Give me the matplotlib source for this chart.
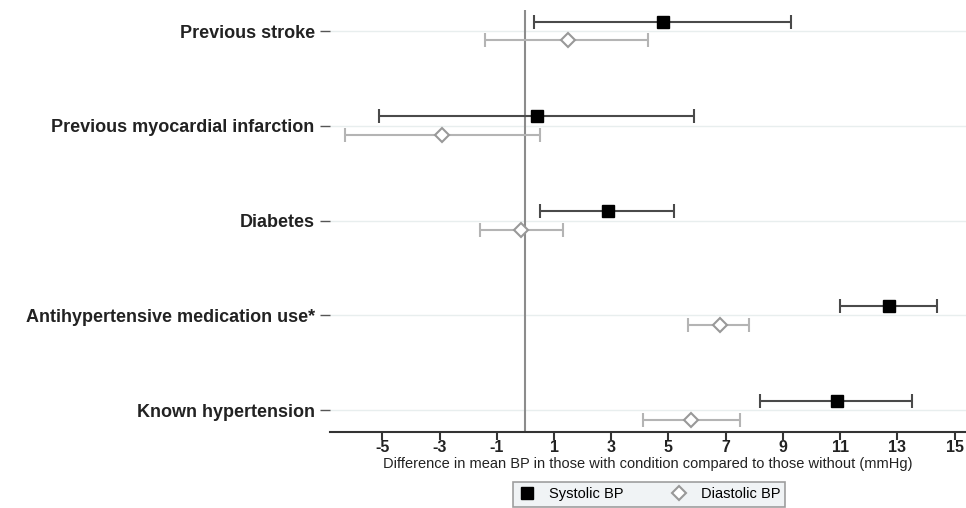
import matplotlib.pyplot as plt
from matplotlib.lines import Line2D

# categories, top to bottom
categories = [
    "Previous stroke",
    "Previous myocardial infarction",
    "Diabetes",
    "Antihypertensive medication use*",
    "Known hypertension",
]

# systolic BP: estimate, lower CI, upper CI
sbp_est = [4.8, 0.4, 2.9, 12.7, 10.9]
sbp_lo = [0.3, -5.1, 0.5, 11.0, 8.2]
sbp_hi = [9.3, 5.9, 5.2, 14.4, 13.5]

# diastolic BP: estimate, lower CI, upper CI
dbp_est = [1.5, -2.9, -0.15, 6.8, 5.8]
dbp_lo = [-1.4, -6.3, -1.6, 5.7, 4.1]
dbp_hi = [4.3, 0.5, 1.3, 7.8, 7.5]

xticks = [-5, -3, -1, 1, 3, 5, 7, 9, 11, 13, 15]

plt.rcParams["font.family"] = ["Liberation Sans", "DejaVu Sans"]

fig = plt.figure(figsize=(9.66, 5.08), dpi=100)
ax = fig.add_axes([0.3416, 0.1496, 0.6584, 0.8304])

n = len(categories)
ypos = [n - i for i in range(n)]
off = 0.1

for y in ypos:
    ax.axhline(y, color="#e8eeee", lw=1, zorder=0)
ax.axvline(0, color="#8c8c8c", lw=1.5, zorder=1)

sbp_y = [y + off for y in ypos]
dbp_y = [y - off for y in ypos]

ax.errorbar(sbp_est, sbp_y,
            xerr=[[e - l for e, l in zip(sbp_est, sbp_lo)],
                  [h - e for e, h in zip(sbp_est, sbp_hi)]],
            fmt="none", ecolor="#4a4a4a", elinewidth=1.5, capsize=5, capthick=1.5, zorder=2)
ax.errorbar(dbp_est, dbp_y,
            xerr=[[e - l for e, l in zip(dbp_est, dbp_lo)],
                  [h - e for e, h in zip(dbp_est, dbp_hi)]],
            fmt="none", ecolor="#b4b4b4", elinewidth=1.5, capsize=5, capthick=1.5, zorder=2)
ax.plot(sbp_est, sbp_y, ls="none", marker="s", ms=9, mfc="black", mec="black", zorder=3)
ax.plot(dbp_est, dbp_y, ls="none", marker="D", ms=7, mfc="white", mec="#999999", mew=1.5, zorder=3)

ax.set_xlim(-6.83, 15.4)
ax.set_ylim(0.77, 5.22)
ax.set_xticks(xticks)
ax.set_xticklabels([str(t) for t in xticks], fontsize=11.5, fontweight="bold", color="#222222")
ax.set_yticks(ypos)
ax.set_yticklabels(categories, fontsize=13, fontweight="bold", color="#222222")
ax.tick_params(axis="y", length=7, width=1, color="#555555", pad=4)
ax.tick_params(axis="x", length=6, width=1.5, color="#333333", pad=0)

for s in ["top", "right", "left"]:
    ax.spines[s].set_visible(False)
ax.spines["bottom"].set_color("#333333")
ax.spines["bottom"].set_linewidth(1.5)

ax.set_xlabel("Difference in mean BP in those with condition compared to those without (mmHg)",
              fontsize=10.5, color="#222222", labelpad=1)

handles = [
    Line2D([], [], ls="none", marker="s", ms=8, mfc="black", mec="black"),
    Line2D([], [], ls="none", marker="D", ms=7, mfc="white", mec="#999999", mew=1.5),
]
leg = fig.legend(handles, ["Systolic BP", "Diastolic BP"], ncol=2,
                 loc="lower center", bbox_to_anchor=(0.672, 0.0),
                 fontsize=10.5, frameon=True, fancybox=False,
                 edgecolor="#888888", facecolor="#edf1f3",
                 handlelength=1.2, handletextpad=0.9, columnspacing=3.2,
                 borderpad=0.35, borderaxespad=0.1)
leg.get_frame().set_linewidth(1.2)

fig.savefig("out.png", dpi=100)
